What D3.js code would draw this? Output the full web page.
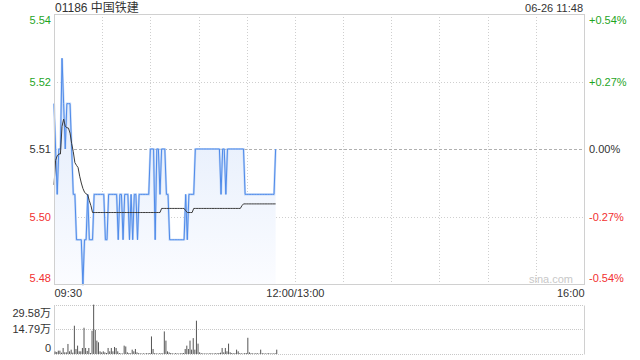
<!DOCTYPE html>
<html>
<head>
<meta charset="utf-8">
<script src="https://cdn.jsdelivr.net/npm/d3@7"></script>
<style>
  body { margin: 0; background: #fff; }
  svg text { font-family: "Liberation Sans", Arial, "Noto Sans CJK SC", sans-serif; }
</style>
</head>
<body>
<div id="chart"></div>
<script>
let stockCode = '01186';
let stockName = '中国铁建';
let stampText = '06-26 11:48';
let prevClose = 5.51;
let pctTicks = [-0.54, -0.27, 0, 0.27, 0.54];
let pctLabels = ['-0.54%', '-0.27%', '0.00%', '+0.27%', '+0.54%'];
let timeTicks = [0, 150, 330];
let timeLabels = ['09:30', '12:00/13:00', '16:00'];
let volMax = 29.58;

// one value per minute from 09:30 to 11:48
let prices = [
  5.52, 5.51, 5.50, 5.51, 5.51, 5.53, 5.52, 5.51, 5.52, 5.52,
  5.52, 5.51, 5.50, 5.50, 5.49, 5.49, 5.49, 5.49, 5.48, 5.49,
  5.49, 5.50, 5.49, 5.49, 5.49, 5.50, 5.50, 5.50, 5.50, 5.50,
  5.50, 5.50, 5.49, 5.49, 5.50, 5.50, 5.50, 5.50, 5.50, 5.50,
  5.49, 5.50, 5.50, 5.49, 5.50, 5.50, 5.50, 5.49, 5.50, 5.49,
  5.50, 5.50, 5.49, 5.50, 5.50, 5.50, 5.50, 5.50, 5.50, 5.50,
  5.51, 5.51, 5.51, 5.49, 5.51, 5.51, 5.50, 5.51, 5.51, 5.51,
  5.50, 5.50, 5.49, 5.49, 5.49, 5.49, 5.49, 5.49, 5.49, 5.49,
  5.49, 5.49, 5.50, 5.49, 5.50, 5.50, 5.50, 5.50, 5.51, 5.51,
  5.51, 5.51, 5.51, 5.51, 5.51, 5.51, 5.51, 5.51, 5.51, 5.51,
  5.51, 5.51, 5.51, 5.51, 5.50, 5.51, 5.51, 5.50, 5.51, 5.51,
  5.51, 5.51, 5.51, 5.51, 5.51, 5.51, 5.51, 5.51, 5.51, 5.50,
  5.50, 5.50, 5.50, 5.50, 5.50, 5.50, 5.50, 5.50, 5.50, 5.50,
  5.50, 5.50, 5.50, 5.50, 5.50, 5.50, 5.50, 5.50, 5.51
];

let avgPrices = [
  5.5021, 5.5075, 5.5085, 5.5089, 5.5089, 5.5150, 5.5166, 5.5150, 5.5147, 5.5146,
  5.5135, 5.5112, 5.5094, 5.5070, 5.5064, 5.5059, 5.5040, 5.5025, 5.5013, 5.5005,
  5.5001, 5.4999, 5.4986, 5.4975, 5.4960, 5.4960, 5.4960, 5.4960, 5.4960, 5.4960,
  5.4960, 5.4960, 5.4960, 5.4960, 5.4960, 5.4960, 5.4960, 5.4960, 5.4960, 5.4960,
  5.4960, 5.4960, 5.4960, 5.4960, 5.4960, 5.4960, 5.4960, 5.4960, 5.4960, 5.4960,
  5.4960, 5.4960, 5.4960, 5.4960, 5.4960, 5.4960, 5.4960, 5.4960, 5.4960, 5.4960,
  5.4960, 5.4960, 5.4960, 5.4960, 5.4960, 5.4960, 5.4960, 5.4969, 5.4969, 5.4969,
  5.4969, 5.4969, 5.4969, 5.4969, 5.4969, 5.4969, 5.4969, 5.4969, 5.4969, 5.4969,
  5.4969, 5.4969, 5.4964, 5.4960, 5.4960, 5.4960, 5.4960, 5.4969, 5.4969, 5.4969,
  5.4969, 5.4969, 5.4969, 5.4969, 5.4969, 5.4969, 5.4969, 5.4969, 5.4969, 5.4969,
  5.4969, 5.4969, 5.4969, 5.4969, 5.4969, 5.4969, 5.4969, 5.4969, 5.4969, 5.4969,
  5.4969, 5.4969, 5.4969, 5.4969, 5.4969, 5.4969, 5.4969, 5.4975, 5.4979, 5.4979,
  5.4979, 5.4979, 5.4979, 5.4979, 5.4979, 5.4979, 5.4979, 5.4979, 5.4979, 5.4979,
  5.4979, 5.4979, 5.4979, 5.4979, 5.4979, 5.4979, 5.4979, 5.4979, 5.4979
];

// volume in 万 shares
let volumes = [
  1.5, 1.2, 2.0, 2.0, 0.8, 3.6, 1.0, 1.0, 6.0, 1.6,
  2.6, 0.8, 16.9, 3.0, 5.0, 1.6, 1.6, 3.6, 15.7, 3.6,
  1.8, 3.6, 0.6, 13.9, 29.5, 14.4, 8.0, 7.0, 1.6, 1.0,
  1.6, 1.0, 0.6, 3.6, 1.6, 3.6, 1.6, 4.2, 3.6, 1.6,
  0.6, 0.4, 0.3, 5.0, 4.5, 1.0, 0.6, 0.4, 2.6, 1.6,
  3.0, 1.0, 0.5, 0.4, 0.3, 0.4, 0.3, 0.5, 0.4, 0.6,
  10.5, 3.0, 0.5, 0.4, 0.3, 0.4, 0.5, 0.4, 13.5, 8.0,
  1.6, 1.0, 0.6, 0.4, 0.3, 0.5, 0.4, 0.3, 0.4, 0.5,
  0.6, 3.0, 5.0, 3.0, 8.0, 2.6, 9.5, 2.6, 19.9, 6.2,
  1.0, 0.5, 0.4, 0.3, 0.4, 0.3, 0.4, 0.5, 0.3, 0.4,
  0.5, 0.4, 0.6, 0.8, 3.6, 1.0, 3.6, 1.6, 6.2, 1.0,
  0.6, 0.4, 0.5, 2.6, 1.6, 0.5, 0.4, 0.3, 0.5, 0.6,
  9.7, 1.0, 0.5, 0.4, 0.3, 0.5, 0.4, 0.3, 2.6, 0.5,
  0.4, 0.3, 0.4, 0.5, 0.3, 0.4, 0.3, 0.5, 2.6
];

let green = '#1fa51f', red = '#f23030', dark = '#333';

let plotLeft = 54, plotRight = 584, plotTop = 14, plotBottom = 284;
let volTop = 304.5, volBottom = 354;

let svg = d3.select('#chart')
  .append('svg')
    .attr('width', 640)
    .attr('height', 360);

let x = d3.scaleLinear().domain([0, 330]).range([plotLeft, plotRight]);
let y = d3.scaleLinear()
  .domain([prevClose * (1 - 0.0054), prevClose * (1 + 0.0054)])
  .range([plotBottom, plotTop]);
let yv = d3.scaleLinear().domain([0, volMax]).range([volBottom, volTop]);

let tickPrices = pctTicks.map(p => prevClose * (1 + p / 100));
let tickColor = function(i) { return pctTicks[i] > 0 ? green : (pctTicks[i] < 0 ? red : dark); };

// gradient for the price area
let grad = svg.append('defs').append('linearGradient')
  .attr('id', 'fillGrad')
  .attr('gradientUnits', 'userSpaceOnUse')
  .attr('x1', 0).attr('x2', 0)
  .attr('y1', plotTop).attr('y2', plotBottom);
grad.append('stop').attr('offset', '0%').attr('stop-color', '#d9e6fa');
grad.append('stop').attr('offset', '100%').attr('stop-color', '#fbfcff');

// vertical grid
let gridMinutes = d3.range(30, 330, 30);
svg.append('g')
  .selectAll('line')
  .data(gridMinutes)
  .enter()
  .append('line')
    .attr('x1', d => Math.round(x(d)) + 0.5).attr('x2', d => Math.round(x(d)) + 0.5)
    .attr('y1', plotTop).attr('y2', plotBottom)
    .attr('stroke', '#cfcfcf')
    .attr('stroke-dasharray', '1,2');

// horizontal grid
svg.append('g')
  .selectAll('line')
  .data(tickPrices.slice(1, 4))
  .enter()
  .append('line')
    .attr('x1', plotLeft).attr('x2', plotRight)
    .attr('y1', d => Math.round(y(d)) + 0.5).attr('y2', d => Math.round(y(d)) + 0.5)
    .attr('stroke', (d, i) => i === 1 ? '#b0b0b0' : '#cfcfcf')
    .attr('stroke-dasharray', (d, i) => i === 1 ? '3,2' : '1,2');

// price area + lines
let area = d3.area()
  .x((d, i) => x(i))
  .y0(plotBottom)
  .y1(d => y(d));
svg.append('path')
  .datum(prices)
  .attr('d', area)
  .attr('fill', 'url(#fillGrad)');

let line = d3.line()
  .x((d, i) => x(i))
  .y(d => y(d));

svg.append('path')
  .datum(prices)
  .attr('d', line)
  .attr('fill', 'none')
  .attr('stroke', '#c2d7f7')
  .attr('stroke-width', 2.2);
svg.append('path')
  .datum(prices)
  .attr('d', line)
  .attr('fill', 'none')
  .attr('stroke', '#4f8bea')
  .attr('stroke-width', 1);

svg.append('path')
  .datum(avgPrices)
  .attr('d', line)
  .attr('fill', 'none')
  .attr('stroke', '#3a3a3a')
  .attr('stroke-width', 1);

// frame
svg.append('rect')
  .attr('x', plotLeft + 0.5).attr('y', plotTop + 0.5)
  .attr('width', plotRight - plotLeft).attr('height', plotBottom - plotTop)
  .attr('fill', 'none')
  .attr('stroke', '#d0d0d0');

// watermark
svg.append('text')
  .attr('x', 573).attr('y', 283)
  .attr('text-anchor', 'end')
  .style('font-size', '11px')
  .attr('fill', '#c8c8c8')
  .text('sina.com');

// left price axis
let yAxisL = d3.axisLeft(y)
  .tickValues(tickPrices)
  .tickSize(0)
  .tickPadding(3)
  .tickFormat(d3.format('.2f'));
let gL = svg.append('g')
  .attr('transform', 'translate(' + plotLeft + ',0)')
  .call(yAxisL);
gL.select('.domain').remove();
gL.selectAll('text')
  .style('font-size', '11px')
  .attr('fill', (d, i) => tickColor(i))
  .attr('dy', (d, i) => i === 4 ? '0.87em' : (i === 0 ? '-0.2em' : '0.32em'));

// right pct axis
let yAxisR = d3.axisRight(y)
  .tickValues(tickPrices)
  .tickSize(0)
  .tickPadding(5)
  .tickFormat((d, i) => pctLabels[i]);
let gR = svg.append('g')
  .attr('transform', 'translate(' + plotRight + ',0)')
  .call(yAxisR);
gR.select('.domain').remove();
gR.selectAll('text')
  .style('font-size', '11px')
  .attr('fill', (d, i) => tickColor(i))
  .attr('dy', (d, i) => i === 4 ? '0.87em' : (i === 0 ? '-0.2em' : '0.32em'));

// time axis
let xAxis = d3.axisBottom(x)
  .tickValues(timeTicks)
  .tickSize(0)
  .tickPadding(5)
  .tickFormat((d, i) => timeLabels[i]);
let gX = svg.append('g')
  .attr('transform', 'translate(0,' + plotBottom + ')')
  .call(xAxis);
gX.select('.domain').remove();
gX.selectAll('text')
  .style('font-size', '11px')
  .attr('fill', dark)
  .attr('text-anchor', (d, i) => i === 0 ? 'start' : (i === 2 ? 'end' : 'middle'));

// volume panel
svg.append('g')
  .selectAll('line')
  .data([volMax, volMax / 2, 0])
  .enter()
  .append('line')
    .attr('x1', plotLeft).attr('x2', plotRight)
    .attr('y1', d => Math.round(yv(d)) + 0.5).attr('y2', d => Math.round(yv(d)) + 0.5)
    .attr('stroke', '#c8c8c8')
    .attr('stroke-dasharray', '1,1');

svg.append('g')
  .selectAll('line')
  .data([plotLeft, plotRight])
  .enter()
  .append('line')
    .attr('x1', d => d + 0.5).attr('x2', d => d + 0.5)
    .attr('y1', Math.round(yv(volMax)) + 0.5).attr('y2', Math.round(yv(0)) + 0.5)
    .attr('stroke', '#d0d0d0');

svg.append('g')
  .selectAll('rect')
  .data(volumes)
  .enter()
  .append('rect')
    .attr('x', (d, i) => x(i) + 0.6)
    .attr('y', d => yv(d))
    .attr('width', 1)
    .attr('height', d => yv(0) - yv(d))
    .attr('fill', '#555');

let vAxis = d3.axisLeft(yv)
  .tickValues([0, volMax / 2, volMax])
  .tickSize(0)
  .tickPadding(3)
  .tickFormat(d => d === 0 ? '0' : d3.format('.2f')(d) + '万');
let gV = svg.append('g')
  .attr('transform', 'translate(' + plotLeft + ',0)')
  .call(vAxis);
gV.select('.domain').remove();
gV.selectAll('text')
  .style('font-size', '11px')
  .attr('fill', dark)
  .attr('dy', (d, i) => i === 0 ? '-0.2em' : (i === 2 ? '1.05em' : '0.32em'));

// header
svg.append('text')
  .attr('x', 55).attr('y', 12)
  .style('font-size', '12px')
  .attr('fill', dark)
  .text(stockCode + ' ' + stockName);

svg.append('text')
  .attr('x', 583).attr('y', 12)
  .attr('text-anchor', 'end')
  .style('font-size', '11px')
  .attr('fill', dark)
  .text(stampText);
</script>
</body>
</html>
